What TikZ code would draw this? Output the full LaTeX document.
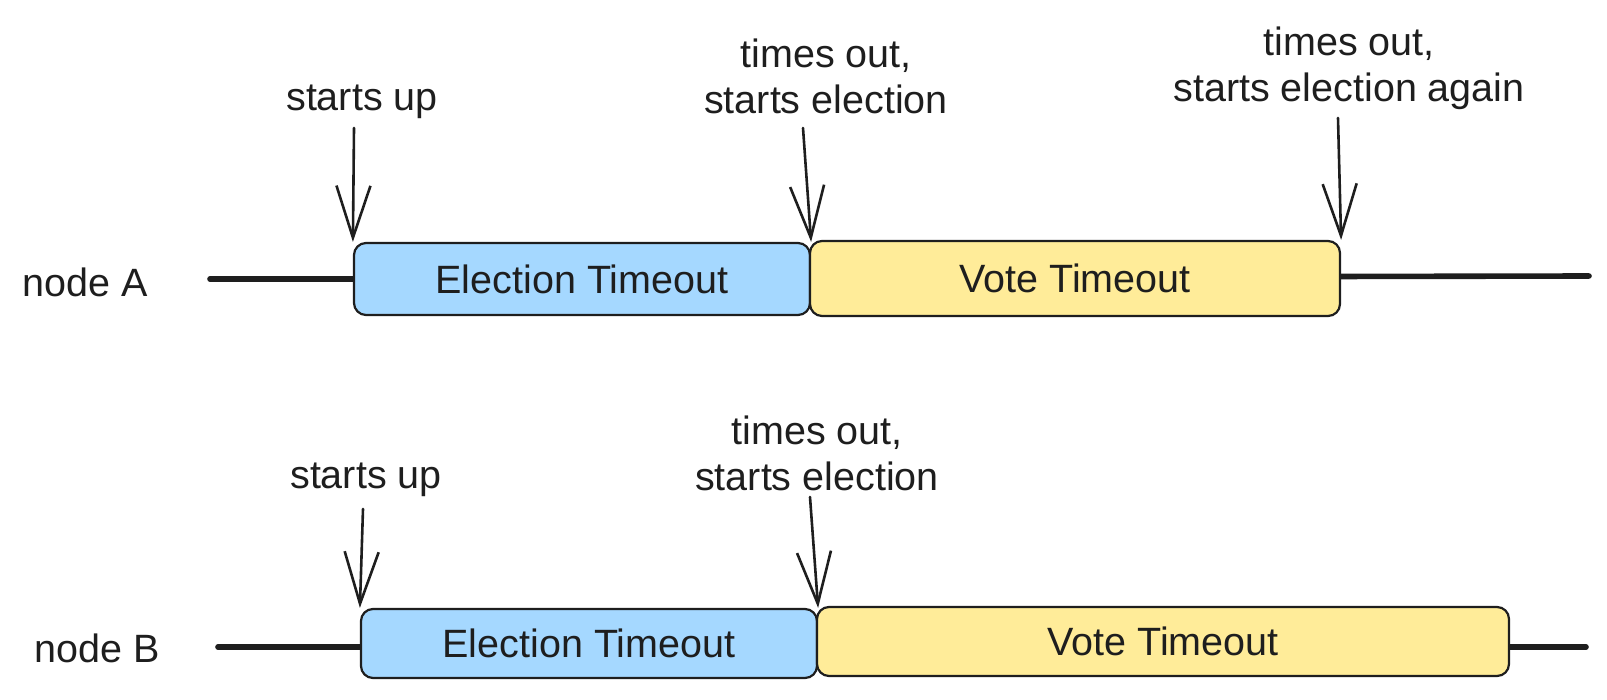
\documentclass[tikz,border=0pt]{standalone}
\usepackage{fontspec}
\setmainfont{Liberation Sans}
\usetikzlibrary{arrows.meta}
\definecolor{ink}{HTML}{1E1E1E}
\definecolor{eblue}{HTML}{A5D8FF}
\definecolor{vyellow}{HTML}{FFEC99}
\tikzset{
  lbl/.style={text=ink, font=\fontsize{19.75}{23}\selectfont, align=center, inner sep=0pt},
  tbox/.style={draw=ink, line width=1.1pt, rounded corners=6pt, text=ink,
     font=\fontsize{19.75}{23}\selectfont, inner sep=0pt, minimum height=36pt},
  ebox/.style={tbox, fill=eblue},
  vbox/.style={tbox, fill=vyellow},
  track/.style={draw=ink, line width=2.8pt, line cap=round},
  arr/.style={draw=ink, line width=1.3pt, line cap=round,
     -{Straight Barb[length=26pt, width=17pt, line width=1.3pt]}}
}
\begin{document}
\begin{tikzpicture}[x=0.5pt, y=-0.5pt]
\useasboundingbox (0,0) rectangle (1607,700);
% ---- node A ----
\node[lbl] (nA) at (85,282) {node A};
\coordinate (lA0) at (210,279);
\coordinate (lA1) at (1589,276);
\draw[track] (lA0) -- (582,279);
\draw[track] (1075,277) -- (lA1);
\node[ebox, minimum width=228pt] (eA) at (582,279) {Election Timeout};
\node[vbox, minimum width=265pt, minimum height=37.5pt] (vA) at (1075,278.5) {Vote Timeout};
\node[lbl] (sA) at (362,102) {starts up};
\node[lbl] (tA) at (826,76) {times out,\\starts election};
\node[lbl] (gA) at (1349,68) {times out,\\starts election again};
\coordinate (aA1) at (354,128);
\coordinate (aA2) at (803,128);
\coordinate (aA3) at (1338,118);
\draw[arr] (aA1) -- (eA.north west);
\draw[arr] (aA2) -- (eA.north east);
\draw[arr] (aA3) -- (vA.north east);
% ---- node B ----
\node[lbl] (nB) at (97,648) {node B};
\coordinate (lB0) at (218,647);
\coordinate (lB1) at (1586,647);
\draw[track] (lB0) -- (589,647);
\draw[track] (1163,647) -- (lB1);
\node[ebox, minimum width=228pt, minimum height=34.5pt] (eB) at (589,643.5) {Election Timeout};
\node[vbox, minimum width=346pt, minimum height=34.5pt] (vB) at (1163,641.5) {Vote Timeout};
\node[lbl] (sB) at (366,480) {starts up};
\node[lbl] (tB) at (817,453) {times out,\\starts election};
\coordinate (aB1) at (363,509);
\coordinate (aB2) at (810,497);
\draw[arr] (aB1) -- (eB.north west);
\draw[arr] (aB2) -- (eB.north east);
\end{tikzpicture}
\end{document}
